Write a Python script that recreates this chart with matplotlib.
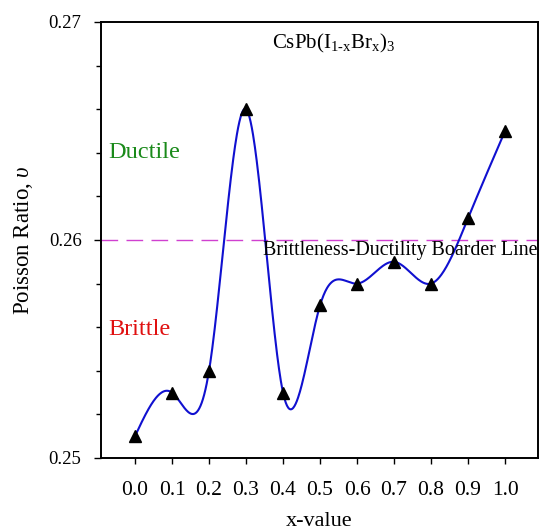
import numpy as np
import matplotlib
matplotlib.use("Agg")
import matplotlib.pyplot as plt
from matplotlib.ticker import MultipleLocator

x_vals = [0.0, 0.1, 0.2, 0.3, 0.4, 0.5, 0.6, 0.7, 0.8, 0.9, 1.0]
poisson = [0.251, 0.253, 0.254, 0.266, 0.253, 0.257, 0.258, 0.259, 0.258, 0.261, 0.265]
border_value = 0.26
x_ticks = [0.0, 0.1, 0.2, 0.3, 0.4, 0.5, 0.6, 0.7, 0.8, 0.9, 1.0]
y_ticks = [0.25, 0.26, 0.27]


def natural_spline(x, y, xs):
    x = np.asarray(x, float); y = np.asarray(y, float)
    n = len(x)
    h = np.diff(x)
    A = np.zeros((n, n)); b = np.zeros(n)
    A[0, 0] = 1; A[-1, -1] = 1
    for i in range(1, n - 1):
        A[i, i - 1] = h[i - 1]
        A[i, i] = 2 * (h[i - 1] + h[i])
        A[i, i + 1] = h[i]
        b[i] = 3 * ((y[i + 1] - y[i]) / h[i] - (y[i] - y[i - 1]) / h[i - 1])
    c = np.linalg.solve(A, b)
    bb = np.zeros(n - 1); d = np.zeros(n - 1)
    for i in range(n - 1):
        bb[i] = (y[i + 1] - y[i]) / h[i] - h[i] * (2 * c[i] + c[i + 1]) / 3
        d[i] = (c[i + 1] - c[i]) / (3 * h[i])
    idx = np.clip(np.searchsorted(x, xs) - 1, 0, n - 2)
    dx = xs - x[idx]
    return y[idx] + bb[idx] * dx + c[idx] * dx ** 2 + d[idx] * dx ** 3


plt.rcParams['font.family'] = ['Liberation Serif', 'DejaVu Serif']
plt.rcParams['mathtext.fontset'] = 'custom'
plt.rcParams['mathtext.rm'] = 'Liberation Serif'
plt.rcParams['mathtext.it'] = 'Liberation Serif:italic'

fig = plt.figure(figsize=(5.39, 5.31), dpi=100)
ax = fig.add_axes([101 / 539, 1 - 458 / 531, (538 - 101) / 539, (458 - 22) / 531])

xs = np.linspace(min(x_vals), max(x_vals), 600)
ax.plot(xs, natural_spline(x_vals, poisson, xs), color='#1010d0', lw=1.5, zorder=2)
ax.plot(x_vals, poisson, linestyle='none', marker='^', color='black', markersize=8, zorder=3)
ax.axhline(border_value, color='#d040d0', lw=1.0, dashes=(12, 6), zorder=1)

ax.set_xlim(-0.0919, 1.089)
ax.set_ylim(0.25, 0.27)
ax.set_xticks(x_ticks)
ax.set_xticklabels([f"{v:.1f}" for v in x_ticks])
ax.set_yticks(y_ticks)
ax.set_yticklabels([f"{v:.2f}" for v in y_ticks])
ax.yaxis.set_minor_locator(MultipleLocator(0.002))
ax.tick_params(axis='both', which='both', direction='out', top=False, right=False, width=1.0)
ax.tick_params(axis='y', which='major', length=5, pad=9, labelsize=13.5)
ax.tick_params(axis='y', which='minor', length=3.3)
ax.tick_params(axis='x', which='major', length=4.5, pad=12, labelsize=15.5)
for s in ax.spines.values():
    s.set_linewidth(1.4)

ax.set_xlabel('x-value', fontsize=16, labelpad=9)
ax.set_ylabel(r'Poisson Ratio, $\mathit{\upsilon}$', fontsize=16.5, labelpad=10)

ax.text(-0.072, 0.2640, 'Ductile', color='#1a8a1a', fontsize=17.5, va='center', ha='left')
ax.text(-0.072, 0.2559, 'Brittle', color='#e01010', fontsize=17.5, va='center', ha='left')
ax.text(0.370, 0.2690, r'CsPb(I$_{\mathrm{1\text{-}x}}$Br$_{\mathrm{x}}$)$_{3}$', fontsize=15,
        va='center', ha='left')
ax.text(0.346, 0.2595, 'Brittleness-Ductility Boarder Line', fontsize=14.4,
        va='center', ha='left', zorder=4, clip_on=True)

fig.savefig('out.png', dpi=100)
